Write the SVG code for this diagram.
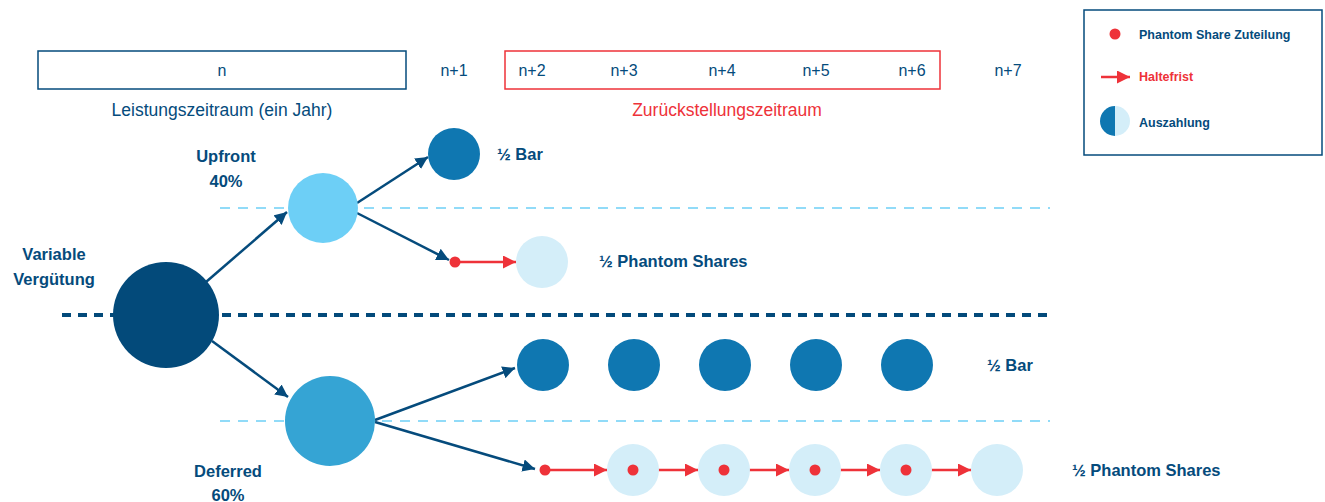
<svg xmlns="http://www.w3.org/2000/svg" width="1325" height="502" viewBox="0 0 1325 502">
  <defs>
    <marker id="arrow-blue" viewBox="0 0 10 10" refX="10" refY="5" markerWidth="5" markerHeight="5" markerUnits="strokeWidth" orient="auto">
      <path d="M0,0 L10,5 L0,10 z" fill="#054b7c"/>
    </marker>
    <marker id="arrow-red" viewBox="0 0 10 10" refX="10" refY="5" markerWidth="5.4" markerHeight="5.2" markerUnits="strokeWidth" orient="auto">
      <path d="M0,0 L10,5 L0,10 z" fill="#ee3239"/>
    </marker>
  </defs>
  <style>
    text { font-family: "Liberation Sans", Arial, sans-serif; fill: #054b7c; }
    .lbl { font-size: 16.5px; font-weight: bold; }
    .yr { font-size: 16px; text-anchor: middle; }
    .period { font-size: 17.5px; text-anchor: middle; }
    .leg { font-size: 12.5px; font-weight: bold; }
    .red { fill: #ee3239; }
    .edge { stroke: #054b7c; stroke-width: 2.5; fill: none; marker-end: url(#arrow-blue); }
    .hold { stroke: #ee3239; stroke-width: 2.5; fill: none; marker-end: url(#arrow-red); }
    .dot { fill: #ee3239; }
    .total { fill: #034a7a; }
    .upfront { fill: #6dcff6; }
    .deferred { fill: #35a4d4; }
    .cash { fill: #0f77b1; }
    .share { fill: #d4eef9; }
  </style>

  <!-- timeline -->
  <g id="timeline">
    <rect x="38" y="51" width="368" height="38" fill="none" stroke="#054b7c" stroke-width="1.5"/>
    <rect x="505" y="51" width="435" height="38" fill="none" stroke="#ee3239" stroke-width="1.5"/>
    <text class="yr" x="222" y="76">n</text>
    <text class="yr" x="454" y="76">n+1</text>
    <text class="yr" x="532" y="76">n+2</text>
    <text class="yr" x="624" y="76">n+3</text>
    <text class="yr" x="722" y="76">n+4</text>
    <text class="yr" x="816" y="76">n+5</text>
    <text class="yr" x="912" y="76">n+6</text>
    <text class="yr" x="1008" y="76">n+7</text>
    <text class="period" x="222" y="116">Leistungszeitraum (ein Jahr)</text>
    <text class="period red" x="727" y="116">Zurückstellungszeitraum</text>
  </g>

  <!-- legend -->
  <g id="legend">
    <rect x="1084" y="10" width="238" height="145" fill="#fff" stroke="#054b7c" stroke-width="1.5"/>
    <circle cx="1115" cy="34" r="5.5" class="dot"/>
    <text class="leg" x="1139" y="39">Phantom Share Zuteilung</text>
    <line x1="1101" y1="77" x2="1130" y2="77" class="hold"/>
    <text class="leg red" x="1139" y="81">Haltefrist</text>
    <path d="M1115,106 A15,15 0 0 0 1115,136 z" class="cash"/>
    <path d="M1115,106 A15,15 0 0 1 1115,136 z" class="share"/>
    <text class="leg" x="1139" y="127">Auszahlung</text>
  </g>

  <!-- guide lines -->
  <g id="guides">
    <line x1="220" y1="208" x2="1050" y2="208" stroke="#6dcff6" stroke-width="1.5" stroke-dasharray="10 8"/>
    <line x1="220" y1="421" x2="1050" y2="421" stroke="#6dcff6" stroke-width="1.5" stroke-dasharray="10 8"/>
    <line x1="62" y1="315" x2="1052" y2="315" stroke="#034a7a" stroke-width="4" stroke-dasharray="9 7"/>
  </g>

  <!-- connectors -->
  <g id="connectors">
    <line x1="206" y1="282" x2="287" y2="212" class="edge"/>
    <line x1="357" y1="203" x2="428" y2="157" class="edge"/>
    <line x1="357" y1="213" x2="449" y2="260" class="edge"/>
    <line x1="212" y1="341" x2="288" y2="397" class="edge"/>
    <line x1="375" y1="420" x2="515" y2="368" class="edge"/>
    <line x1="375" y1="422" x2="535" y2="469" class="edge"/>
    <line x1="455" y1="262" x2="516" y2="262" class="hold"/>
    <line x1="545" y1="470" x2="607" y2="470" class="hold"/>
    <line x1="633" y1="470" x2="698" y2="470" class="hold"/>
    <line x1="724" y1="470" x2="789" y2="470" class="hold"/>
    <line x1="815" y1="470" x2="880" y2="470" class="hold"/>
    <line x1="906" y1="470" x2="971" y2="470" class="hold"/>
  </g>

  <!-- nodes -->
  <g id="node-total">
    <circle cx="166" cy="315" r="53" class="total"/>
    <text class="lbl" x="54" y="260" text-anchor="middle">Variable</text>
    <text class="lbl" x="54" y="285" text-anchor="middle">Vergütung</text>
  </g>
  <g id="node-upfront">
    <circle cx="323" cy="208" r="35" class="upfront"/>
    <text class="lbl" x="226" y="162" text-anchor="middle">Upfront</text>
    <text class="lbl" x="226" y="187" text-anchor="middle">40%</text>
  </g>
  <g id="node-upfront-cash">
    <circle cx="454" cy="154" r="26" class="cash"/>
    <text class="lbl" x="497" y="160">½ Bar</text>
  </g>
  <g id="node-upfront-shares">
    <circle cx="455" cy="262" r="5.5" class="dot"/>
    <circle cx="542" cy="262" r="26" class="share"/>
    <text class="lbl" x="599" y="267">½ Phantom Shares</text>
  </g>
  <g id="node-deferred">
    <circle cx="330" cy="421" r="45" class="deferred"/>
    <text class="lbl" x="228" y="477" text-anchor="middle">Deferred</text>
    <text class="lbl" x="228" y="501" text-anchor="middle">60%</text>
  </g>
  <g id="node-deferred-cash">
    <circle cx="543" cy="365" r="26" class="cash"/>
    <circle cx="634" cy="365" r="26" class="cash"/>
    <circle cx="725" cy="365" r="26" class="cash"/>
    <circle cx="816" cy="365" r="26" class="cash"/>
    <circle cx="907" cy="365" r="26" class="cash"/>
    <text class="lbl" x="987" y="371">½ Bar</text>
  </g>
  <g id="node-deferred-shares">
    <circle cx="633" cy="470" r="26" class="share"/>
    <circle cx="724" cy="470" r="26" class="share"/>
    <circle cx="815" cy="470" r="26" class="share"/>
    <circle cx="906" cy="470" r="26" class="share"/>
    <circle cx="997" cy="470" r="26" class="share"/>
    <circle cx="545" cy="470" r="5.5" class="dot"/>
    <circle cx="633" cy="470" r="5.5" class="dot"/>
    <circle cx="724" cy="470" r="5.5" class="dot"/>
    <circle cx="815" cy="470" r="5.5" class="dot"/>
    <circle cx="906" cy="470" r="5.5" class="dot"/>
    <text class="lbl" x="1072" y="476">½ Phantom Shares</text>
  </g>
</svg>
